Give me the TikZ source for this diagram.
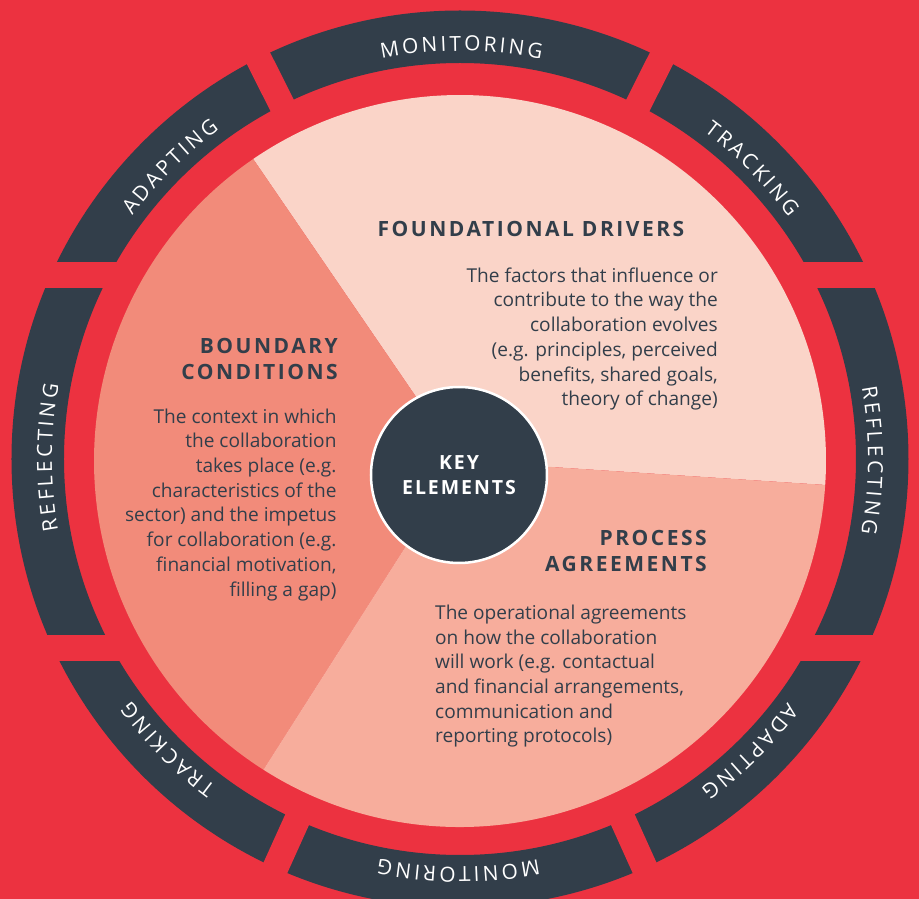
\documentclass[tikz,border=0pt]{standalone}
\usepackage{fontspec}
\setmainfont{Open Sans}
\usetikzlibrary{decorations.text}

\definecolor{bgred}{RGB}{236,50,64}
\definecolor{slate}{RGB}{50,62,74}
\definecolor{drivers}{RGB}{250,212,200}
\definecolor{bounds}{RGB}{242,139,122}
\definecolor{process}{RGB}{247,173,156}

\newcommand{\headfont}{\fontsize{21}{26}\selectfont\bfseries\addfontfeature{LetterSpace=12}}
\newcommand{\bodyfont}{\fontsize{19.1}{24.7}\selectfont}
\newcommand{\keyfont}{\fontsize{19.5}{24.5}\selectfont\bfseries\addfontfeature{LetterSpace=10}}
\newcommand{\ringfmt}{\fontsize{20.8}{20.8}\selectfont\color{white}\kern3pt}

\begin{document}
\begin{tikzpicture}[x=1pt,y=1pt,
    head/.style={font=\headfont, text=slate, inner sep=0pt},
    body/.style={font=\bodyfont, text=slate, inner sep=0pt},
    gapbar/.style={bgred, line width=26pt},
    ringtext/.style={decorate, decoration={text along path,
        text={|\ringfmt|#1}, text align=center}}]
  \useasboundingbox (-460,-439) rectangle (459,460);
  \fill[bgred] (-460,-439) rectangle (459,460);
  \coordinate (rc) at (0,1);
  \coordinate (pc) at (0,-1);

  \fill[slate, even odd rule] (rc) circle[radius=448.5] (rc) circle[radius=396];
  \draw[gapbar] (-460,185) -- (459,185);
  \draw[gapbar] (-460,-188.5) -- (459,-188.5);
  \foreach \a in {63.3,116.7,245.7,294.3}
    \draw[gapbar, shift={(rc)}] (\a:380) -- (\a:470);

  \fill[drivers] (pc) -- ++(-3.75:366) arc[start angle=-3.75, end angle=124.4, radius=366] -- cycle;
  \fill[bounds] (pc) -- ++(124.4:366) arc[start angle=124.4, end angle=237.5, radius=366] -- cycle;
  \fill[process] (pc) -- ++(237.5:366) arc[start angle=237.5, end angle=356.25, radius=366] -- cycle;

  \node[circle, fill=slate, draw=white, line width=2.5pt, minimum size=176pt,
    inner sep=0pt, align=center, font=\keyfont, text=white] (key) at (-1,-15) {KEY\\ELEMENTS};

  \node[head, anchor=base] (drvtitle) at (71,223) {FOUNDATIONAL DRIVERS};
  \node[body, align=right, anchor=north east] (drvtext) at (258,192.6)
    {The factors that influence or\\contribute to the way the\\collaboration evolves\\(e.g. principles, perceived\\benefits, shared goals,\\theory of change)};

  \node[head, align=right, anchor=north east] (bndtitle) at (-122,121.6) {BOUNDARY\\CONDITIONS};
  \node[body, align=right, anchor=north east] (bndtext) at (-123.3,51.6)
    {The context in which\\the collaboration\\takes place (e.g.\\characteristics of the\\sector) and the impetus\\for collaboration (e.g.\\financial motivation,\\filling a gap)};

  \node[head, align=right, anchor=north east] (prctitle) at (247,-70.1) {PROCESS\\AGREEMENTS};
  \node[body, align=left, anchor=north west] (prctext) at (-25,-144.7)
    {The operational agreements\\on how the collaboration\\will work (e.g. contactual\\and financial arrangements,\\communication and\\reporting protocols)};

  \foreach \ang/\word in {90/MONITORING,45/TRACKING,0/REFLECTING,315/ADAPTING,
      270/MONITORING,225/TRACKING,180/REFLECTING,135/ADAPTING}
    \path[ringtext/.expanded=\word, shift={(rc)}]
      (\ang+40:408) arc[start angle=\ang+40, end angle=\ang-40, radius=408];
\end{tikzpicture}
\end{document}
